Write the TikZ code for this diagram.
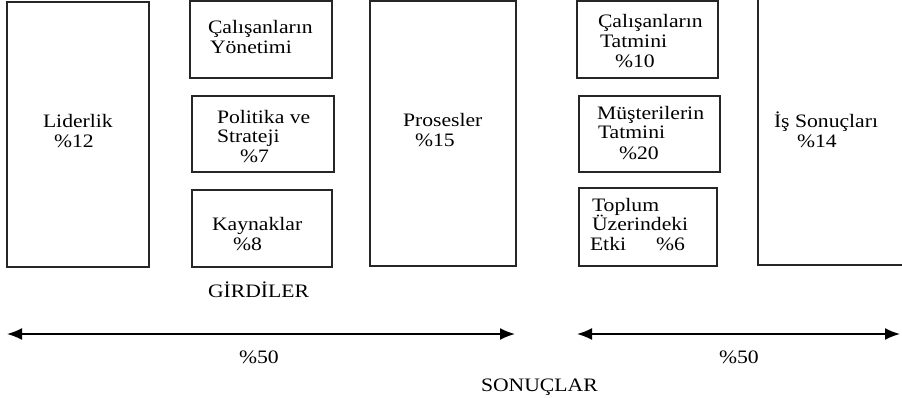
\documentclass[tikz,border=0pt]{standalone}
\usepackage{fontspec}
\setmainfont[FakeStretch=1.14]{Liberation Serif}
\usetikzlibrary{arrows.meta}
\begin{document}
\begin{tikzpicture}[x=1pt,y=-1pt,
  box/.style={draw=black!85,line width=1.7pt,inner sep=0pt,outer sep=0pt},
  txt/.style={anchor=base west,inner sep=0pt,outer sep=0pt,font=\fontsize{19}{20}\selectfont},
  dbl/.style={{Latex[length=15pt,width=12pt]}-{Latex[length=15pt,width=12pt]},line width=1.7pt}]
\useasboundingbox (0,0) rectangle (902,397);
% boxes
\node[box,minimum width=142pt,minimum height=265pt] (lid) at (78,134.5) {};
\node[box,minimum width=142pt,minimum height=77pt] (cy) at (261,39.5) {};
\node[box,minimum width=142pt,minimum height=76pt] (pol) at (263,134) {};
\node[box,minimum width=140pt,minimum height=77pt] (kay) at (262,228.5) {};
\node[box,minimum width=146pt,minimum height=265pt] (pro) at (443,133.5) {};
\node[box,minimum width=141pt,minimum height=77pt] (ct) at (647.5,39.5) {};
\node[box,minimum width=141pt,minimum height=76pt] (mt) at (649.5,134) {};
\node[box,minimum width=138pt,minimum height=78pt] (tp) at (648,227) {};
\node[box,minimum width=160pt,minimum height=280pt] (is) at (838,125) {};
% texts
\node[txt] (t1) at (43,127) {Liderlik};
\node[txt] (t2) at (54,147) {\%12};
\node[txt] (t3) at (208,33) {Çalışanların};
\node[txt] (t4) at (210,53) {Yönetimi};
\node[txt] (t5) at (217,123) {Politika ve};
\node[txt] (t6) at (217,142) {Strateji};
\node[txt] (t7) at (240,162) {\%7};
\node[txt] (t8) at (212,230) {Kaynaklar};
\node[txt] (t9) at (233,250) {\%8};
\node[txt] (t10) at (403,126) {Prosesler};
\node[txt] (t11) at (415,146) {\%15};
\node[txt] (t12) at (598,27) {Çalışanların};
\node[txt] (t13) at (600,47) {Tatmini};
\node[txt] (t14) at (615,67) {\%10};
\node[txt] (t15) at (597,119) {Müşterilerin};
\node[txt] (t16) at (598,138) {Tatmini};
\node[txt] (t17) at (619,159) {\%20};
\node[txt] (t18) at (592,211) {Toplum};
\node[txt] (t19) at (592,230) {Üzerindeki};
\node[txt] (t20) at (590,250) {Etki};
\node[txt] (t21) at (656,250) {\%6};
\node[txt] (t22) at (774,127) {İş Sonuçları};
\node[txt] (t23) at (797,147) {\%14};
\node[txt] (g) at (208,297) {GİRDİLER};
\node[txt] (p1) at (239,363) {\%50};
\node[txt] (p2) at (719,363) {\%50};
\node[txt] (s) at (481,391) {SONUÇLAR};
% arrows
\coordinate (a1) at (7,334);
\coordinate (a2) at (515,334);
\coordinate (a3) at (577,334);
\coordinate (a4) at (900,334);
\draw[dbl] (a1) -- (a2);
\draw[dbl] (a3) -- (a4);
\end{tikzpicture}
\end{document}
